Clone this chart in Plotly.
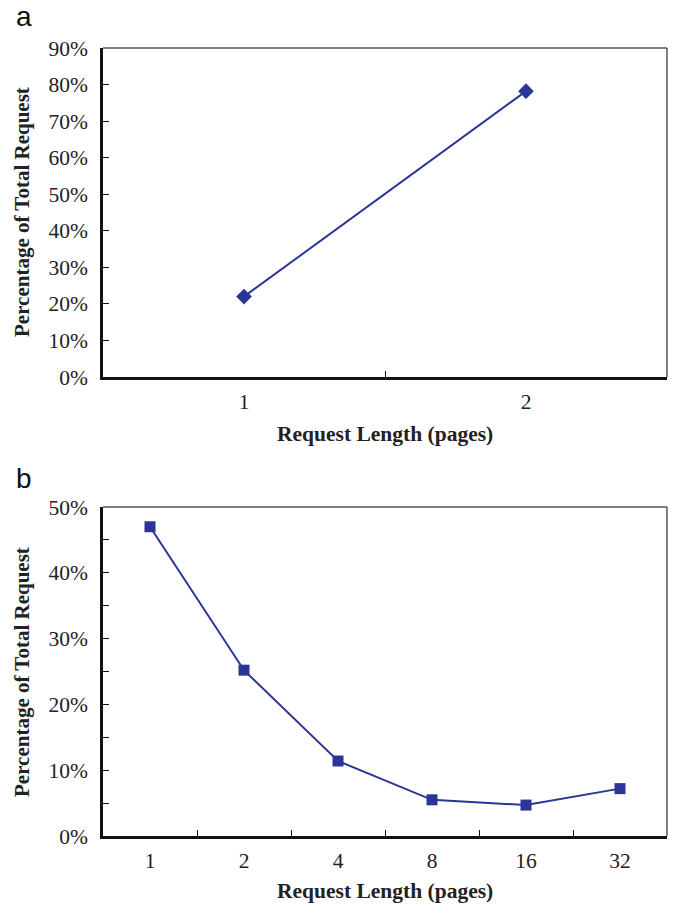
import plotly.graph_objects as go

# Panel a data
cats_a = ["1", "2"]
vals_a = [22.0, 78.2]
# Panel b data
cats_b = ["1", "2", "4", "8", "16", "32"]
vals_b = [47.0, 25.2, 11.4, 5.5, 4.7, 7.2]

yticks_a = list(range(0, 91, 10))
yticks_b = list(range(0, 51, 10))
ylabels_a = [f"{v}%" for v in yticks_a]
ylabels_b = [f"{v}%" for v in yticks_b]

W, H = 673, 906
FONT = "Liberation Serif"
BLUE = "#2b3595"
FS = 21.5

def px(v):
    return v / W

def py(v):
    return 1 - v / H

fig = go.Figure()
fig.add_trace(go.Scatter(x=cats_a, y=vals_a, mode="lines+markers",
                         line=dict(color=BLUE, width=2),
                         marker=dict(symbol="diamond", size=12, color=BLUE),
                         xaxis="x", yaxis="y", showlegend=False))
fig.add_trace(go.Scatter(x=cats_b, y=vals_b, mode="lines+markers",
                         line=dict(color=BLUE, width=2),
                         marker=dict(symbol="square", size=11, color=BLUE),
                         xaxis="x2", yaxis="y2", showlegend=False))

xl, xr = 103, 667
common_x = dict(type="category", showgrid=False, zeroline=False, showline=True,
                linecolor="#111", linewidth=2.5, ticks="inside", ticklen=6,
                tickcolor="#111", tickwidth=1.2, tickson="boundaries",
                tickfont=dict(family=FONT, size=FS, color="#222"),
                ticklabelstandoff=3, domain=[px(xl), px(xr)], automargin=False)
common_y = dict(showgrid=False, zeroline=False, showline=True,
                linecolor="#111", linewidth=2.5, ticks="inside", ticklen=6,
                tickcolor="#111", tickwidth=1.2,
                tickfont=dict(family=FONT, size=FS, color="#222"),
                ticklabelstandoff=8, automargin=False)

fig.update_layout(
    width=W, height=H, margin=dict(l=0, r=0, t=0, b=0),
    paper_bgcolor="white", plot_bgcolor="white",
    xaxis=dict(common_x, range=[-0.5, 1.5], anchor="y"),
    yaxis=dict(common_y, range=[0, 90], tickvals=yticks_a, ticktext=ylabels_a,
               anchor="x", domain=[py(377), py(48)]),
    xaxis2=dict(common_x, range=[-0.5, 5.5], anchor="y2"),
    yaxis2=dict(common_y, range=[0, 50], tickvals=yticks_b, ticktext=ylabels_b,
                anchor="x2", domain=[py(836), py(507)],
                minor=dict(tickvals=[5, 15, 25, 35, 45], ticks="inside", ticklen=6,
                           tickcolor="#111", tickwidth=1.2)),
)

# top/right frame lines
for (top, bot) in [(48, 377), (507, 836)]:
    fig.add_shape(type="line", xref="paper", yref="paper",
                  x0=px(xl), x1=px(xr), y0=py(top), y1=py(top),
                  line=dict(color="#555", width=1.5))
    fig.add_shape(type="line", xref="paper", yref="paper",
                  x0=px(xr), x1=px(xr), y0=py(top), y1=py(bot),
                  line=dict(color="#555", width=1.5))

ann = []
for (lab, y) in [("a", 17), ("b", 478)]:
    ann.append(dict(text=lab, x=px(14), y=py(y), xref="paper", yref="paper",
                    xanchor="left", yanchor="middle", showarrow=False,
                    font=dict(family="Liberation Sans", size=28, color="#111")))
for (cy, ty) in [(212, 434), (672, 891)]:
    ann.append(dict(text="<b>Percentage of Total Request</b>", x=px(22), y=py(cy),
                    xref="paper", yref="paper", textangle=-90, showarrow=False,
                    xanchor="center", yanchor="middle",
                    font=dict(family=FONT, size=21, color="#222")))
    ann.append(dict(text="<b>Request Length (pages)</b>", x=px(385), y=py(ty),
                    xref="paper", yref="paper", showarrow=False,
                    xanchor="center", yanchor="middle",
                    font=dict(family=FONT, size=FS, color="#222")))
fig.update_layout(annotations=ann)

fig.write_html("out.html")
